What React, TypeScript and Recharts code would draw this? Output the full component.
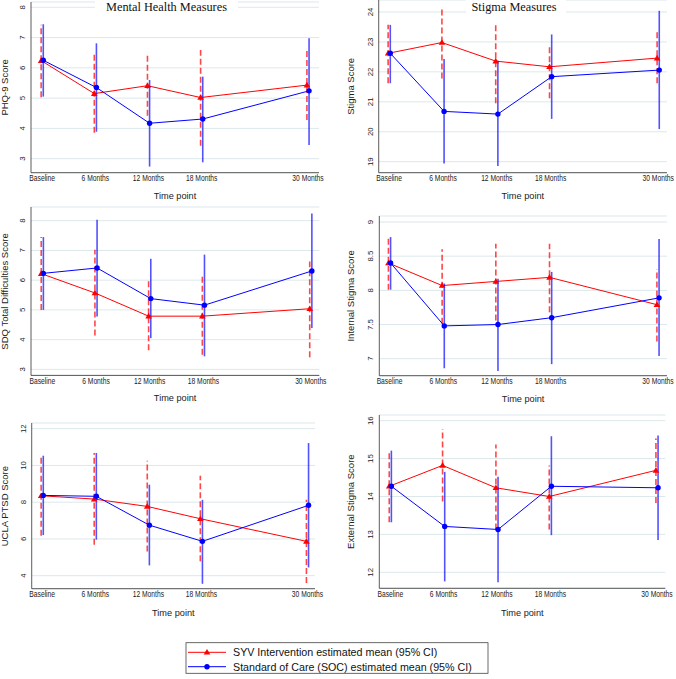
import React from 'react'
import { LineChart, Line, XAxis, YAxis, CartesianGrid, ErrorBar } from 'recharts'

const months = [0, 6, 12, 18, 30]
const timeLabels = ['Baseline', '6 Months', '12 Months', '18 Months', '30 Months']
const columnTitles = ['Mental Health Measures', 'Stigma Measures']
const seriesNames = [
  'SYV Intervention estimated mean (95% CI)',
  'Standard of Care (SOC) estimated mean (95% CI)',
]
const xTitle = 'Time point'

// PHQ-9
const phqSyvMean = [6.24, 5.15, 5.41, 5.02, 5.43]
const phqSyvLow = [5.03, 3.86, 4.42, 3.43, 4.28]
const phqSyvHigh = [7.42, 6.43, 6.43, 6.59, 6.61]
const phqSocMean = [6.25, 5.35, 4.17, 4.31, 5.24]
const phqSocLow = [5.05, 3.89, 2.74, 2.88, 3.45]
const phqSocHigh = [7.44, 6.81, 5.6, 5.71, 6.98]
const phqTicks = [3, 4, 5, 6, 7, 8]

// Stigma
const stSyvMean = [22.62, 22.98, 22.36, 22.17, 22.46]
const stSyvLow = [21.62, 21.78, 20.95, 21.12, 21.62]
const stSyvHigh = [23.57, 24.16, 23.57, 22.9, 23.32]
const stSocMean = [22.62, 20.68, 20.59, 21.84, 22.06]
const stSocLow = [21.62, 18.94, 18.86, 20.43, 20.09]
const stSocHigh = [23.57, 22.43, 22.37, 23.25, 24.04]
const stTicks = [19, 20, 21, 22, 23, 24]

// SDQ total difficulties
const sdqSyvMean = [6.22, 5.57, 4.79, 4.79, 5.04]
const sdqSyvLow = [5.0, 4.14, 3.64, 3.49, 3.41]
const sdqSyvHigh = [7.45, 7.02, 5.96, 6.13, 6.63]
const sdqSocMean = [6.23, 6.41, 5.38, 5.16, 6.31]
const sdqSocLow = [5.0, 4.78, 4.05, 3.44, 4.39]
const sdqSocHigh = [7.45, 8.03, 6.72, 6.86, 8.24]
const sdqTicks = [3, 4, 5, 6, 7, 8]

// Internal stigma
const inSyvMean = [8.4, 8.07, 8.13, 8.19, 7.79]
const inSyvLow = [8.01, 7.51, 7.56, 7.68, 7.25]
const inSyvHigh = [8.77, 8.6, 8.68, 8.68, 8.31]
const inSocMean = [8.4, 7.48, 7.5, 7.6, 7.89]
const inSocLow = [8.01, 6.86, 6.82, 6.92, 7.04]
const inSocHigh = [8.78, 8.1, 8.17, 8.27, 8.75]
const inTicks = [7, 7.5, 8, 8.5, 9]

// UCLA PTSD
const ucSyvMean = [8.35, 8.17, 7.77, 7.1, 5.87]
const ucSyvLow = [6.17, 5.68, 5.32, 4.78, 3.6]
const ucSyvHigh = [10.46, 10.68, 10.26, 9.44, 8.13]
const ucSocMean = [8.37, 8.32, 6.75, 5.87, 7.83]
const ucSocLow = [6.21, 5.96, 4.56, 3.56, 4.45]
const ucSocHigh = [10.53, 10.68, 8.95, 8.13, 11.22]
const ucTicks = [4, 6, 8, 10, 12]

// External stigma
const exSyvMean = [14.27, 14.82, 14.23, 14.0, 14.69]
const exSyvLow = [13.32, 13.87, 13.13, 13.13, 13.83]
const exSyvHigh = [15.19, 15.78, 15.37, 14.82, 15.53]
const exSocMean = [14.27, 13.21, 13.13, 14.27, 14.23]
const exSocLow = [13.32, 11.76, 11.74, 12.98, 12.85]
const exSocHigh = [15.21, 14.65, 14.52, 15.59, 15.61]
const exTicks = [12, 13, 14, 15, 16]

const RED = '#ff0000'
const BLUE = '#0000ff'
const SANS = '"Liberation Sans", Arial, sans-serif'
const SERIF = '"Liberation Serif", "Times New Roman", serif'

function rows(mean: number[], low: number[], high: number[], shift: number) {
  return months.map((m, i) => ({
    x: m + shift,
    y: mean[i],
    err: [mean[i] - low[i], high[i] - mean[i]],
  }))
}

const panels = [
  {
    key: 'phq', left: 0, width: 336, plot: { l: 31, r: 319, t: 2, b: 172.7 },
    p0: 42.2, p30: 308, yRef: [7.3, 8, 158.7, 3], yTicks: phqTicks, yLabel: 'PHQ-9 Score',
    labelX: 8, titleY: 198.5,
    syv: rows(phqSyvMean, phqSyvLow, phqSyvHigh, -0.12),
    soc: rows(phqSocMean, phqSocLow, phqSocHigh, 0.12),
  },
  {
    key: 'stigma', left: 336, width: 340, plot: { l: 378.7, r: 667, t: 0, b: 172.7 },
    p0: 389.2, p30: 658.2, yRef: [12, 24, 161.7, 19], yTicks: stTicks, yLabel: 'Stigma Score',
    labelX: 354.5, titleY: 198.5,
    syv: rows(stSyvMean, stSyvLow, stSyvHigh, -0.12),
    soc: rows(stSocMean, stSocLow, stSocHigh, 0.12),
  },
  {
    key: 'sdq', left: 0, width: 336, plot: { l: 31, r: 319.3, t: 207.3, b: 375.7 },
    p0: 42.3, p30: 310.8, yRef: [221, 8, 369.7, 3], yTicks: sdqTicks, yLabel: 'SDQ Total Difficulties Score',
    labelX: 8, titleY: 401,
    syv: rows(sdqSyvMean, sdqSyvLow, sdqSyvHigh, -0.12),
    soc: rows(sdqSocMean, sdqSocLow, sdqSocHigh, 0.12),
  },
  {
    key: 'internal', left: 336, width: 340, plot: { l: 379.3, r: 667, t: 216, b: 375.7 },
    p0: 389.5, p30: 658, yRef: [222, 9, 358.7, 7], yTicks: inTicks, yLabel: 'Internal Stigma Score',
    labelX: 354.5, titleY: 401.5,
    syv: rows(inSyvMean, inSyvLow, inSyvHigh, -0.12),
    soc: rows(inSocMean, inSocLow, inSocHigh, 0.12),
  },
  {
    key: 'ucla', left: 0, width: 336, plot: { l: 31.7, r: 315, t: 423.3, b: 589 },
    p0: 42.2, p30: 307.5, yRef: [429, 12, 576, 4], yTicks: ucTicks, yLabel: 'UCLA PTSD Score',
    labelX: 8, titleY: 615.5,
    syv: rows(ucSyvMean, ucSyvLow, ucSyvHigh, -0.12),
    soc: rows(ucSocMean, ucSocLow, ucSocHigh, 0.12),
  },
  {
    key: 'external', left: 336, width: 340, plot: { l: 379.3, r: 665.3, t: 415, b: 588.3 },
    p0: 390.3, p30: 657, yRef: [420.7, 16, 572.3, 12], yTicks: exTicks, yLabel: 'External Stigma Score',
    labelX: 354.5, titleY: 615.5,
    syv: rows(exSyvMean, exSyvLow, exSyvHigh, -0.12),
    soc: rows(exSocMean, exSocLow, exSocHigh, 0.12),
  },
]

function XTick({ x, y, payload }: any) {
  const label = timeLabels[months.indexOf(payload.value)]
  return (
    <text
      transform={`translate(${x},${y + 8.5}) scale(0.82,1)`}
      textAnchor="middle"
      fontFamily={SANS}
      fontSize={8.2}
      fill="#222"
    >
      {label}
    </text>
  )
}

function YTick({ x, y, payload }: any) {
  const bx = x - 6
  return (
    <text
      transform={`rotate(-90 ${bx} ${y})`}
      x={bx}
      y={y}
      textAnchor="middle"
      fontFamily={SANS}
      fontSize={7.8}
      fill="#222"
    >
      {String(payload.value)}
    </text>
  )
}

function triangle(cx: number, cy: number, s = 3.3) {
  return `M${cx},${cy - s} L${cx + s},${cy + s * 0.7} L${cx - s},${cy + s * 0.7} Z`
}

function Panel({ spec }: { spec: (typeof panels)[number] }) {
  const { left, width, plot, p0, p30, yRef } = spec
  const ppm = (p30 - p0) / 30
  const xDomain = [(plot.l - p0) / ppm, (plot.r - p0) / ppm]
  const [pa, va, pb, vb] = yRef
  const ppu = (pb - pa) / (va - vb)
  const yDomain = [vb - (plot.b - pb) / ppu, va + (pa - plot.t) / ppu]
  const top = plot.t - 4
  const height = plot.b + 14 - top

  return (
    <div style={{ position: 'absolute', left, top }}>
      <LineChart
        width={width}
        height={height}
        margin={{ top: 4, right: left + width - plot.r, bottom: 0, left: 0 }}
      >
        <CartesianGrid vertical={false} stroke="#d8e5e9" strokeWidth={0.9} />
        <XAxis
          type="number"
          dataKey="x"
          domain={xDomain}
          ticks={months}
          interval={0}
          allowDataOverflow
          height={14}
          tickSize={0}
          tickMargin={0}
          tickLine={false}
          axisLine={{ stroke: '#333', strokeWidth: 0.8 }}
          tick={<XTick />}
        />
        <YAxis
          type="number"
          domain={yDomain}
          ticks={spec.yTicks}
          interval={0}
          allowDataOverflow
          width={plot.l - left}
          tickSize={0}
          tickMargin={0}
          tickLine={false}
          axisLine={{ stroke: '#333', strokeWidth: 0.8 }}
          tick={<YTick />}
        />
        <Line
          data={spec.syv}
          dataKey="y"
          stroke={RED}
          strokeWidth={1}
          isAnimationActive={false}
          activeDot={false}
          dot={(p: any) => (
            <path key={`syv-${p.index}`} d={triangle(p.cx, p.cy)} fill={RED} stroke="none" />
          )}
        >
          <ErrorBar
            dataKey="err"
            direction="y"
            width={0}
            stroke="rgba(255,0,0,0.72)"
            strokeWidth={1.6}
            strokeDasharray="6 3"
            isAnimationActive={false}
          />
        </Line>
        <Line
          data={spec.soc}
          dataKey="y"
          stroke={BLUE}
          strokeWidth={1}
          isAnimationActive={false}
          activeDot={false}
          dot={{ r: 2.7, fill: BLUE, stroke: 'none' }}
        >
          <ErrorBar
            dataKey="err"
            direction="y"
            width={0}
            stroke="rgba(0,0,255,0.68)"
            strokeWidth={1.6}
            isAnimationActive={false}
          />
        </Line>
      </LineChart>
    </div>
  )
}

export default function App() {
  return (
    <div style={{ position: 'absolute', left: 0, top: 0, width: 676, height: 679, background: '#fff' }}>
      {panels.map(p => <Panel key={p.key} spec={p} />)}
      <svg width={676} height={679} style={{ position: 'absolute', left: 0, top: 0, pointerEvents: 'none' }}>
        <rect x={95} y={0} width={143} height={15} fill="#fff" />
        <text x={166.5} y={10.8} textAnchor="middle" fontFamily={SERIF} fontSize={12.3} fill="#111">
          {columnTitles[0]}
        </text>
        <rect x={466} y={0} width={100} height={15} fill="#fff" />
        <text x={514} y={10.8} textAnchor="middle" fontFamily={SERIF} fontSize={12.3} fill="#111">
          {columnTitles[1]}
        </text>

        {panels.map(p => {
          const cy = (p.plot.t + p.plot.b) / 2
          const cx = (p.plot.l + p.plot.r) / 2
          return (
            <g key={`lab-${p.key}`}>
              <text
                transform={`rotate(-90 ${p.labelX} ${cy})`}
                x={p.labelX}
                y={cy}
                textAnchor="middle"
                fontFamily={SANS}
                fontSize={9.5}
                fill="#222"
              >
                {p.yLabel}
              </text>
              <text x={cx} y={p.titleY} textAnchor="middle" fontFamily={SANS} fontSize={9.2} fill="#222">
                {xTitle}
              </text>
            </g>
          )
        })}

        <rect x={186} y={642.7} width={302} height={30.6} fill="#fff" stroke="#444" strokeWidth={0.8} />
        <line x1={188} x2={226} y1={652.3} y2={652.3} stroke={RED} strokeWidth={1} />
        <path d={triangle(207, 652.3)} fill={RED} />
        <text x={233} y={656} fontFamily={SANS} fontSize={10.7} fill="#111">{seriesNames[0]}</text>
        <line x1={188} x2={226} y1={666.7} y2={666.7} stroke={BLUE} strokeWidth={1} />
        <circle cx={207} cy={666.7} r={2.7} fill={BLUE} />
        <text x={233} y={670.5} fontFamily={SANS} fontSize={10.7} fill="#111">{seriesNames[1]}</text>
      </svg>
    </div>
  )
}
